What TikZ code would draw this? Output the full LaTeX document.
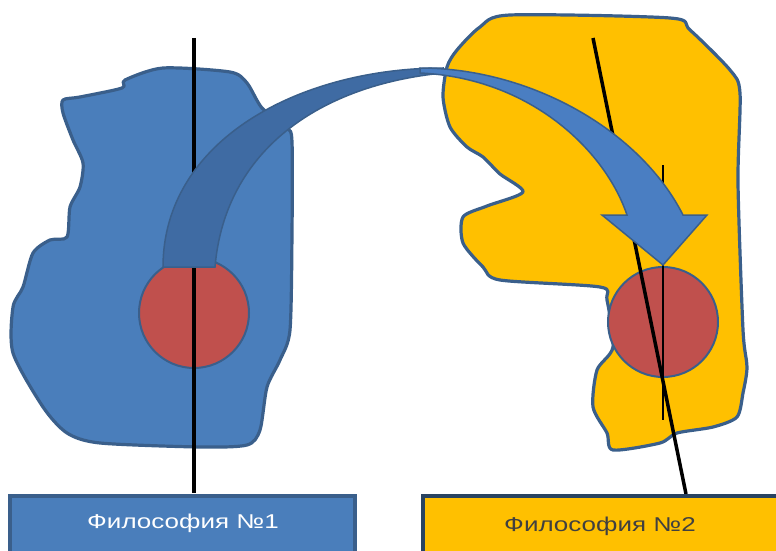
\documentclass[tikz,border=0pt]{standalone}
\usepackage{fontspec}
\newfontfamily\philfont[FakeStretch=1.3]{Liberation Sans}
\usetikzlibrary{positioning}
\definecolor{BlobBlue}{HTML}{4A7EBB}
\definecolor{BlobYellow}{HTML}{FFC000}
\definecolor{EdgeBlue}{HTML}{3A5F8B}
\definecolor{CoreRed}{HTML}{C0504D}
\definecolor{ArrowDark}{HTML}{3F6BA3}
\definecolor{ArrowLight}{HTML}{4A7EC2}

\begin{document}
\begin{tikzpicture}[x=1pt, y=-1pt,
    blob/.style={draw=EdgeBlue, line width=3.2pt, line join=round},
    core/.style={circle, draw=EdgeBlue, line width=2pt, fill=CoreRed, minimum size=110pt, inner sep=0pt},
    axis/.style={black, line width=3.5pt},
    label/.style={font=\philfont\fontsize{20}{22}\selectfont}]
        \useasboundingbox (0,0) rectangle (776,551);
        \clip (0,0) rectangle (776,551);
        % Философия 1
        \filldraw[blob, fill=BlobBlue] plot[smooth cycle, tension=0.45] coordinates {
          (63,100) (80,97) (122,88) (125,80) (163,68) (230,72) (247,83) (262,108)
          (287,128) (292,142) (292,233) (290,330) (280,360) (267,387) (260,430)
          (247,445) (200,447) (100,443) (67,433) (43,407) (13,353) (13,307)
          (23,287) (33,253) (50,240) (67,237) (70,207) (80,187) (83,163)
          (73,140) (63,113)};
        % Философия 2
        \filldraw[blob, fill=BlobYellow] plot[smooth cycle, tension=0.45] coordinates {
          (480,27) (510,15) (670,18) (690,30) (730,70) (740,93) (738,183)
          (743,330) (747,367) (743,393) (737,417) (713,427) (677,433) (660,443)
          (613,450) (607,433) (593,407) (597,370) (613,347) (607,300) (600,287)
          (500,280) (483,267) (463,243) (463,217) (487,206) (523,192) (500,174)
          (483,157) (467,147) (450,127) (443,97) (447,67) (457,50)};
        \node[core] (core1) at (194,313) {};
        \node[core] (core2) at (663,322) {};
        % Оси
        \draw[axis] (194,38) -- (194,493);
        \draw[axis] (593,38) -- (686,494);
        \draw[black, line width=2.5pt] (663,165) -- (663,420);
        % Стрелка
        \filldraw[ArrowDark, draw=EdgeBlue, line width=1.5pt]
          (163,267) .. controls (163,140) and (300,68) .. (443,68)
          -- (443,73) .. controls (320,85) and (225,150) .. (215,267) -- cycle;
        \filldraw[ArrowLight, draw=EdgeBlue, line width=1.5pt]
          (420,68) .. controls (530,68) and (640,130) .. (683,215)
          -- (707,215) -- (663,265) -- (602,215) -- (627,215)
          .. controls (605,150) and (530,78) .. (420,73) -- cycle;
        % Подписи
        \filldraw[fill=BlobBlue, draw=EdgeBlue, line width=3.5pt] (10,496) rectangle (355,580);
        \filldraw[fill=BlobYellow, draw=EdgeBlue!70!black, line width=3.5pt] (423,496) rectangle (800,580);
        \node[label, white] (phil1) at (183,523) {Философия №1};
        \node[label, black!75] (phil2) at (600,526) {Философия №2};
      \end{tikzpicture}
\end{document}
